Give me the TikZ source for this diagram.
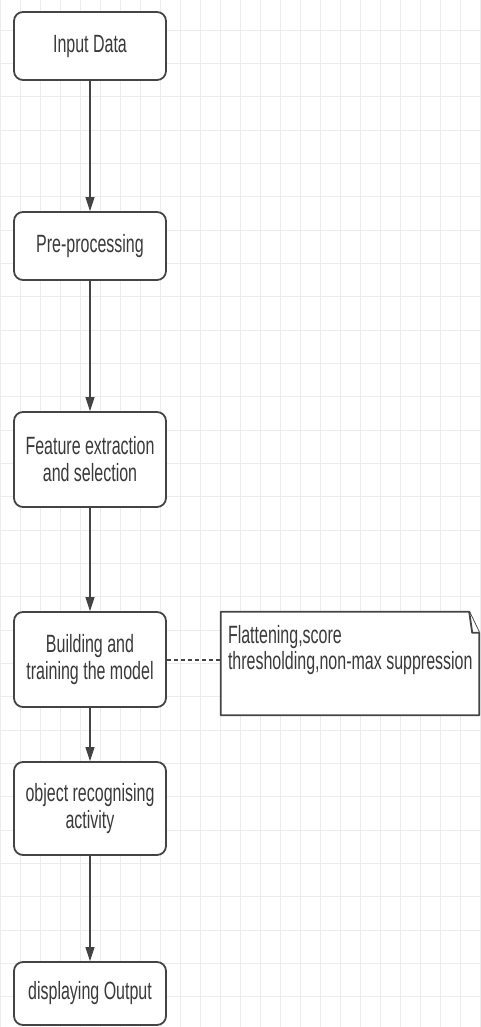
\documentclass[tikz,border=0pt]{standalone}
\usepackage{fontspec}
\setmainfont{Liberation Sans}[FakeStretch=0.64]
\usetikzlibrary{arrows.meta}

\definecolor{boxgray}{HTML}{444444}
\definecolor{txtgray}{HTML}{3A3A3A}
\definecolor{gridgray}{HTML}{ECECEC}

\tikzset{
  stage/.style={draw=boxgray, line width=1.8pt, rounded corners=9pt, fill=white,
    minimum width=152pt, align=center, text=txtgray, inner sep=0pt,
    font=\fontsize{25}{27}\selectfont},
  flow/.style={draw=boxgray, line width=1.4pt, -{Triangle[width=9pt,length=14pt]}},
  dotline/.style={draw=boxgray, line width=2pt, dash pattern=on 4pt off 3pt},
  notebox/.style={draw=boxgray, line width=1.8pt, fill=white, line join=round},
  notetext/.style={align=left, text=txtgray, inner sep=0pt,
    font=\fontsize{25}{26}\selectfont},
  gridline/.style={draw=gridgray, line width=0.8pt}
}

\begin{document}
\begin{tikzpicture}[x=1pt, y=-1pt]
  \useasboundingbox (0,0) rectangle (481,1027);

  % background grid
  \foreach \gx in {0,20,...,480} \draw[gridline] (\gx,0) -- (\gx,1027);
  \foreach \gy in {-3.33,30,...,1027} \draw[gridline] (0,\gy) -- (481,\gy);

  % stages
  \node[stage, minimum height=68pt] (inp) at (90,46) {Input Data};
  \node[stage, minimum height=68pt] (pre) at (90,246) {Pre-processing};
  \node[stage, minimum height=95pt] (feat) at (90,459.5) {Feature extraction\\and selection};
  \node[stage, minimum height=95pt] (build) at (90,659.5) {Building and\\training the model};
  \node[stage, minimum height=93pt] (obj) at (90,808.5) {object recognising\\activity};
  \node[stage, minimum height=63pt] (disp) at (90,993.5) {displaying Output};

  % note with folded corner
  \node[minimum width=258pt, minimum height=103pt, inner sep=0pt] (note) at (350,663.5) {};
  \draw[notebox] (note.north west) -- ([xshift=-10pt]note.north east)
    -- ([yshift=-21pt]note.north east) -- (note.south east)
    -- (note.south west) -- cycle;
  \draw[notebox] ([xshift=-10pt]note.north east) -- ([xshift=-7pt,yshift=-21pt]note.north east)
    -- ([yshift=-21pt]note.north east);
  \node[notetext, anchor=north west] (notetxt) at ([xshift=7pt,yshift=-13pt]note.north west)
    {Flattening,score\\thresholding,non-max suppression};

  % connectors
  \draw[flow] (inp) -- (pre);
  \draw[flow] (pre) -- (feat);
  \draw[flow] (feat) -- (build);
  \draw[flow] (build) -- (obj);
  \draw[flow] (obj) -- (disp);
  \draw[dotline] (build.east) -- (build.east -| note.west);
\end{tikzpicture}
\end{document}
